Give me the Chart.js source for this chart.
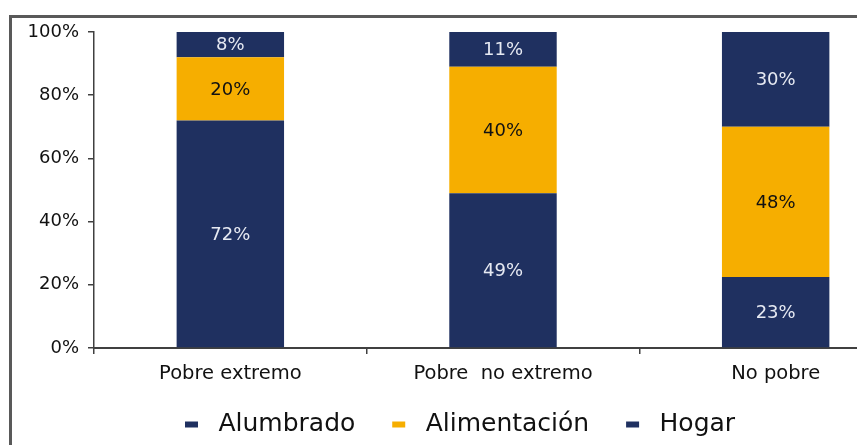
<!DOCTYPE html>
<html>
<head>
<meta charset="utf-8">
<script src="https://cdn.jsdelivr.net/npm/chart.js@4"></script>
<style>
html, body { margin: 0; padding: 0; background: #fff; overflow: hidden; width: 857px; height: 445px; }
#frame { position: absolute; left: 9px; top: 15px; width: 1000px; height: 600px; border-left: 3px solid #595959; border-top: 3px solid #595959; }
#chart { position: absolute; left: 0; top: 0; }
</style>
</head>
<body>
<div id="frame"></div>
<canvas id="chart" width="913" height="445"></canvas>
<script>
// Data (shares of each group, %)
const categories = ['Pobre extremo', 'Pobre  no extremo', 'No pobre'];
const alumbrado = [72, 49, 22.5];
const alimentacion = [20, 40, 47.5];
const hogar = [8, 11, 30];
const seriesNames = ['Alumbrado', 'Alimentación', 'Hogar'];

const NAVY = '#1f3060';
const GOLD = '#f6ae00';
const FONT = '"DejaVu Sans", sans-serif';

// Percent labels in the middle of each segment
const valueLabels = {
    id: 'valueLabels',
    afterDatasetsDraw(chart) {
        const ctx = chart.ctx;
        ctx.save();
        ctx.font = '18px ' + FONT;
        ctx.textAlign = 'center';
        ctx.textBaseline = 'middle';
        chart.data.datasets.forEach((ds, i) => {
            chart.getDatasetMeta(i).data.forEach((bar, j) => {
                const { x, y, base } = bar.getProps(['x', 'y', 'base'], true);
                ctx.fillStyle = ds.backgroundColor === GOLD ? '#111111' : '#e6e9f2';
                ctx.fillText(Math.round(ds.data[j]) + '%', x, (y + base) / 2 + 1);
            });
        });
        ctx.restore();
    }
};

// Wider gaps around the legend text, like the original
const legendLabels = chart =>
    Chart.defaults.plugins.legend.labels.generateLabels(chart)
        .map(item => ({ ...item, text: ' ' + item.text + '  ' }));

const ctx = document.getElementById('chart').getContext('2d');

new Chart(ctx, {
    type: 'bar',
    data: {
        labels: categories,
        datasets: [
            { label: seriesNames[0], data: alumbrado, backgroundColor: NAVY },
            { label: seriesNames[1], data: alimentacion, backgroundColor: GOLD },
            { label: seriesNames[2], data: hogar, backgroundColor: NAVY }
        ]
    },
    options: {
        responsive: false,
        animation: false,
        devicePixelRatio: 1,
        datasets: {
            bar: {
                categoryPercentage: 1,
                barPercentage: 0.394,
                borderWidth: 0
            }
        },
        layout: {
            padding: { top: 32, left: 24, right: 1, bottom: -2 }
        },
        plugins: {
            tooltip: { enabled: false },
            legend: {
                position: 'bottom',
                labels: {
                    boxWidth: 13,
                    boxHeight: 6,
                    padding: 21,
                    color: '#111111',
                    font: { family: FONT, size: 25 },
                    generateLabels: legendLabels
                }
            }
        },
        scales: {
            x: {
                stacked: true,
                afterFit: s => { s.height = 43; },
                border: { color: '#404040', width: 2 },
                grid: {
                    offset: true,
                    drawOnChartArea: false,
                    drawTicks: true,
                    tickLength: 6,
                    color: '#404040',
                    lineWidth: 1.5
                },
                ticks: {
                    padding: 8,
                    color: '#111111',
                    font: { family: FONT, size: 19.5 }
                }
            },
            y: {
                stacked: true,
                min: 0,
                max: 100,
                afterFit: s => { s.width = 70; },
                border: { color: '#404040', width: 1.5 },
                grid: {
                    drawOnChartArea: false,
                    drawTicks: true,
                    tickLength: 6,
                    color: '#404040',
                    lineWidth: 1.5
                },
                ticks: {
                    stepSize: 20,
                    padding: 9,
                    color: '#111111',
                    font: { family: FONT, size: 18 },
                    callback: v => v + '%'
                }
            }
        }
    },
    plugins: [valueLabels]
});
</script>
</body>
</html>
